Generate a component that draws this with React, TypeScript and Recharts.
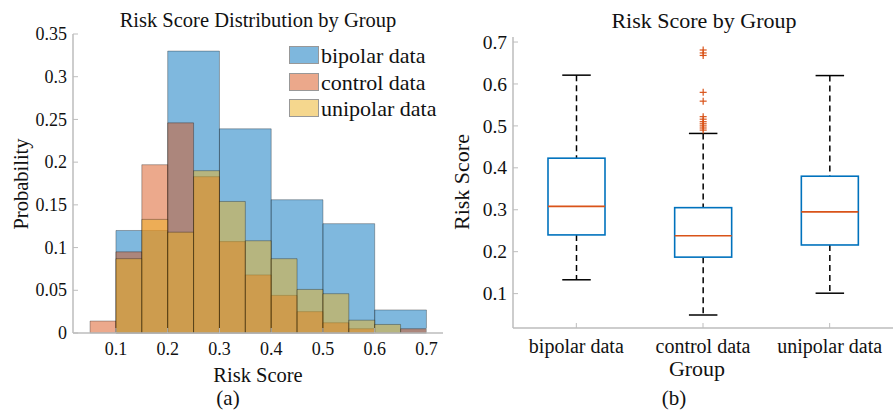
import { ComposedChart, XAxis, YAxis, ReferenceArea, Bar } from "recharts";

const FONT = "'Liberation Serif', 'Times New Roman', serif";
const AXIS = "#bdbdbd";

// (a) histogram: bin edges and probabilities per group
const bipolarEdges = [0.1, 0.2, 0.3, 0.4, 0.5, 0.6, 0.7];
const bipolarProb = [0.12, 0.33, 0.239, 0.156, 0.128, 0.027];
const controlEdges = [0.05, 0.1, 0.15, 0.2, 0.25, 0.3, 0.35, 0.4, 0.45, 0.5, 0.55, 0.6, 0.65, 0.7];
const controlProb = [0.014, 0.095, 0.197, 0.246, 0.183, 0.107, 0.068, 0.044, 0.025, 0.012, 0.005, 0, 0.005];
const unipolarEdges = [0.1, 0.15, 0.2, 0.25, 0.3, 0.35, 0.4, 0.45, 0.5, 0.55, 0.6, 0.65];
const unipolarProb = [0.087, 0.133, 0.118, 0.19, 0.154, 0.108, 0.087, 0.051, 0.046, 0.015, 0.01];
const histXTicks = [0.1, 0.2, 0.3, 0.4, 0.5, 0.6, 0.7];
const histYTicks = [0, 0.05, 0.1, 0.15, 0.2, 0.25, 0.3, 0.35];

// (b) box plot
const groups = ["bipolar data", "control data", "unipolar data"];
const whiskerLow = [0.133, 0.049, 0.101];
const q1 = [0.24, 0.187, 0.216];
const median = [0.308, 0.238, 0.295];
const q3 = [0.423, 0.305, 0.38];
const whiskerHigh = [0.621, 0.482, 0.62];
const controlOutliers = [0.681, 0.674, 0.668, 0.58, 0.559, 0.522, 0.516, 0.51, 0.505, 0.5, 0.495, 0.49];
const boxYTicks = [0.1, 0.2, 0.3, 0.4, 0.5, 0.6, 0.7];

const histSeries = [
  { name: "bipolar data", color: "#0072BD", edges: bipolarEdges, prob: bipolarProb },
  { name: "control data", color: "#D95319", edges: controlEdges, prob: controlProb },
  { name: "unipolar data", color: "#EDB120", edges: unipolarEdges, prob: unipolarProb },
];

const boxData = groups.map((g, i) => ({
  group: g,
  range: [whiskerLow[i], whiskerHigh[i]],
  q1: q1[i],
  median: median[i],
  q3: q3[i],
  outliers: g === "control data" ? controlOutliers : [],
}));

// inward MATLAB-style tick marks drawn together with the label
const makeTick = (orient: string, fontSize: number, m = 6, showLabel = true) => (props: any) => {
  const { x, y, payload } = props;
  const txt = { fontFamily: FONT, fontSize };
  if (orient === "left") {
    return (
      <g>
        <line x1={x + m} x2={x + m + 5} y1={y} y2={y} stroke={AXIS} />
        {showLabel && (
          <text x={x} y={y} dy="0.34em" textAnchor="end" style={txt} fill="#111">
            {payload.value}
          </text>
        )}
      </g>
    );
  }
  if (orient === "bottom") {
    return (
      <g>
        <line x1={x} x2={x} y1={y - m} y2={y - m - 5} stroke={AXIS} />
        {showLabel && (
          <text x={x} y={y} dy="0.71em" textAnchor="middle" style={txt} fill="#111">
            {payload.value}
          </text>
        )}
      </g>
    );
  }
  if (orient === "top") {
    return <line x1={x} x2={x} y1={y} y2={y + 5} stroke={AXIS} />;
  }
  return <line x1={x} x2={x - 5} y1={y} y2={y} stroke={AXIS} />;
};

const BoxShape = (props: any) => {
  const { x, y, width, height, payload } = props;
  const [lo, hi] = payload.range;
  const top = Math.min(y, y + height);
  const bottom = Math.max(y, y + height);
  const py = (v: number) => bottom - ((v - lo) / (hi - lo)) * (bottom - top);
  const cx = x + width / 2;
  const cap = width / 4;
  return (
    <g>
      <line x1={cx} x2={cx} y1={py(hi)} y2={py(payload.q3)} stroke="#000" strokeWidth={1.5} strokeDasharray="6 4" />
      <line x1={cx} x2={cx} y1={py(payload.q1)} y2={py(lo)} stroke="#000" strokeWidth={1.5} strokeDasharray="6 4" />
      <line x1={cx - cap} x2={cx + cap} y1={py(hi)} y2={py(hi)} stroke="#000" strokeWidth={1.5} />
      <line x1={cx - cap} x2={cx + cap} y1={py(lo)} y2={py(lo)} stroke="#000" strokeWidth={1.5} />
      <rect
        x={x}
        y={py(payload.q3)}
        width={width}
        height={py(payload.q1) - py(payload.q3)}
        fill="none"
        stroke="#0072BD"
        strokeWidth={1.6}
      />
      <line x1={x} x2={x + width} y1={py(payload.median)} y2={py(payload.median)} stroke="#D95319" strokeWidth={1.6} />
      {payload.outliers.map((v: number, i: number) => (
        <g key={i} stroke="#D95319" strokeWidth={1.2}>
          <line x1={cx - 3.5} x2={cx + 3.5} y1={py(v)} y2={py(v)} />
          <line x1={cx} x2={cx} y1={py(v) - 3.5} y2={py(v) + 3.5} />
        </g>
      ))}
    </g>
  );
};

const Txt = ({ x, y, size, children, rotate }: any) => (
  <div
    style={{
      position: "absolute",
      left: x,
      top: y,
      transform: `translate(-50%, -50%)${rotate ? " rotate(-90deg)" : ""}`,
      fontFamily: FONT,
      fontSize: size,
      lineHeight: 1,
      whiteSpace: "nowrap",
      color: "#111",
    }}
  >
    {children}
  </div>
);

export default function App() {
  return (
    <div
      style={{
        position: "absolute",
        left: 0,
        top: 0,
        width: 894,
        height: 410,
        background: "#fff",
        overflow: "hidden",
        fontFamily: FONT,
      }}
    >
      <div style={{ position: "absolute", left: 0, top: 0 }}>
        <ComposedChart width={460} height={410} margin={{ top: 34, right: 17, bottom: 37, left: 0 }}>
          <XAxis
            type="number"
            dataKey="x"
            domain={[0.017, 0.732]}
            allowDataOverflow
            ticks={histXTicks}
            tickSize={0}
            tickMargin={9}
            tick={makeTick("bottom", 18, 9)}
            axisLine={{ stroke: AXIS, strokeWidth: 1.5 }}
            tickLine={false}
            height={40}
          />
          <YAxis
            type="number"
            domain={[0, 0.35]}
            allowDataOverflow
            ticks={histYTicks}
            tickSize={0}
            tickMargin={6}
            tick={makeTick("left", 18, 6)}
            axisLine={{ stroke: AXIS, strokeWidth: 1.5 }}
            tickLine={false}
            width={73}
          />
          {histSeries.map((s) =>
            s.prob.map((p, i) =>
              p > 0 ? (
                <ReferenceArea
                  key={s.name + i}
                  x1={s.edges[i]}
                  x2={s.edges[i + 1]}
                  y1={0}
                  y2={p}
                  fill={s.color}
                  fillOpacity={0.5}
                  stroke="#000"
                  strokeOpacity={0.3}
                  strokeWidth={1}
                  ifOverflow="visible"
                />
              ) : null
            )
          )}
        </ComposedChart>
      </div>

      {/* legend (a) */}
      {histSeries.map((s, i) => (
        <div key={s.name} style={{ position: "absolute", left: 289, top: 46 + i * 26.6 }}>
          <div
            style={{
              position: "absolute",
              left: 0,
              top: 0,
              width: 28,
              height: 16,
              background: s.color,
              opacity: 0.5,
              border: "1px solid #333",
            }}
          />
          <div
            style={{
              position: "absolute",
              left: 32,
              top: 0,
              fontFamily: FONT,
              fontSize: 22,
              lineHeight: "20px",
              whiteSpace: "nowrap",
              color: "#111",
            }}
          >
            {s.name}
          </div>
        </div>
      ))}

      <div style={{ position: "absolute", left: 450, top: 0 }}>
        <ComposedChart width={444} height={410} data={boxData} margin={{ top: 37, right: 1, bottom: 42, left: 0 }}>
          <XAxis
            dataKey="group"
            type="category"
            tickSize={0}
            tickMargin={11}
            tick={makeTick("bottom", 20, 11)}
            axisLine={{ stroke: AXIS, strokeWidth: 1.5 }}
            tickLine={false}
            height={40}
          />
          <XAxis
            xAxisId="top"
            orientation="top"
            dataKey="group"
            type="category"
            tickSize={0}
            tick={makeTick("top", 0, 0, false)}
            axisLine={{ stroke: AXIS, strokeWidth: 1.5 }}
            tickLine={false}
            height={0}
          />
          <YAxis
            type="number"
            domain={[0.018, 0.712]}
            allowDataOverflow
            ticks={boxYTicks}
            tickSize={0}
            tickMargin={6}
            tick={makeTick("left", 19.5, 6)}
            axisLine={{ stroke: AXIS, strokeWidth: 1.5 }}
            tickLine={false}
            width={63}
          />
          <YAxis
            yAxisId="right"
            orientation="right"
            type="number"
            domain={[0.018, 0.712]}
            allowDataOverflow
            ticks={boxYTicks}
            tickSize={0}
            tick={makeTick("right", 0, 0, false)}
            axisLine={{ stroke: AXIS, strokeWidth: 1.5 }}
            tickLine={false}
            width={0}
          />
          <Bar dataKey="range" barSize={57} shape={BoxShape} isAnimationActive={false} />
        </ComposedChart>
      </div>

      <Txt x={258} y={20} size={20.5}>Risk Score Distribution by Group</Txt>
      <Txt x={21} y={184} size={20.5} rotate>Probability</Txt>
      <Txt x={258} y={375} size={20.5}>Risk Score</Txt>
      <Txt x={228} y={398} size={21}>(a)</Txt>

      <Txt x={704} y={21} size={22}>Risk Score by Group</Txt>
      <Txt x={462} y={182} size={22} rotate>Risk Score</Txt>
      <Txt x={697} y={369} size={22}>Group</Txt>
      <Txt x={674} y={398} size={21}>(b)</Txt>
    </div>
  );
}
